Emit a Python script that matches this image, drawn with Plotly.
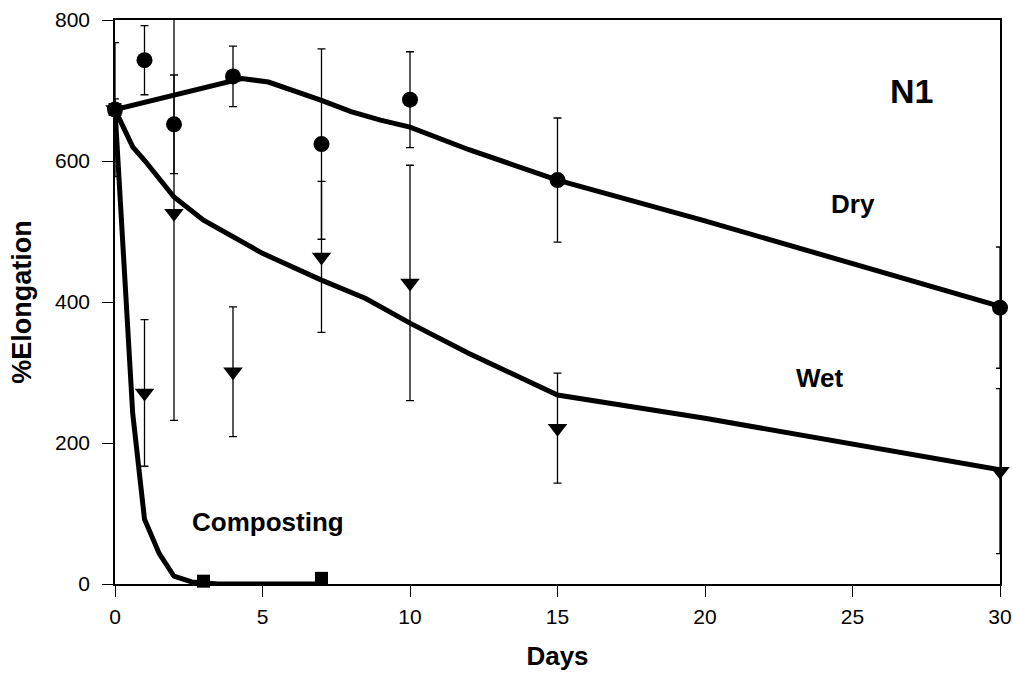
import plotly.graph_objects as go

# ---- data ----
days = [0, 1, 2, 4, 7, 10, 15, 30]

dry_y   = [673, 743, 652, 720, 624, 687, 573, 392]
dry_err = [95, 49, 70, 43, 135, 68, 88, 86]

wet_y   = [673, 271, 526, 301, 464, 427, 221, 160]
wet_err = [15, 104, 294, 92, 107, 167, 78, 117]

comp_days = [0, 3, 7]
comp_y    = [673, 4, 8]

# fitted curves
dry_fit_x = [0, 4.3, 5.2, 6, 7, 8, 9, 10, 12, 15, 20, 30]
dry_fit_y = [673, 717, 712, 701, 686, 670, 658, 648, 616, 573, 515, 394]

wet_fit_x = [0, 0.6, 1, 2, 3, 5, 7, 8.5, 10, 12, 15, 20, 30]
wet_fit_y = [673, 620, 601, 549, 516, 469, 431, 405, 370, 327, 268, 235, 162]

comp_fit_x = [0, 0.33, 0.5, 0.6, 1, 1.5, 2, 2.6, 3.5, 5, 7]
comp_fit_y = [673, 431, 320, 242, 92, 43, 11, 3, 0, 0, 0]

FONT = "Liberation Sans, Arial, Helvetica, sans-serif"
BLACK = "#000000"

fig = go.Figure()

# fitted lines
for fx, fy in [(dry_fit_x, dry_fit_y), (wet_fit_x, wet_fit_y), (comp_fit_x, comp_fit_y)]:
    fig.add_trace(go.Scatter(x=fx, y=fy, mode="lines",
                             line=dict(color=BLACK, width=5),
                             hoverinfo="skip", showlegend=False))

# error bars (clipped to plot area)
for yy, ee in [(dry_y, dry_err), (wet_y, wet_err)]:
    fig.add_trace(go.Scatter(x=days, y=yy, mode="markers",
                             marker=dict(size=1, color="rgba(0,0,0,0)"),
                             error_y=dict(type="data", array=ee, visible=True,
                                          color=BLACK, thickness=1.3, width=4),
                             cliponaxis=True, showlegend=False, hoverinfo="skip"))

# markers (not clipped)
fig.add_trace(go.Scatter(x=days, y=dry_y, mode="markers",
                         marker=dict(symbol="circle", size=16, color=BLACK),
                         cliponaxis=False, showlegend=False))
fig.add_trace(go.Scatter(x=days, y=wet_y, mode="markers",
                         marker=dict(symbol="triangle-down", size=17, color=BLACK),
                         cliponaxis=False, showlegend=False))
fig.add_trace(go.Scatter(x=comp_days, y=comp_y, mode="markers",
                         marker=dict(symbol="square", size=13, color=BLACK),
                         cliponaxis=False, showlegend=False))

ann_font = dict(family=FONT, size=26, color=BLACK)
fig.add_annotation(x=27.0, y=700, text="<b>N1</b>", showarrow=False,
                   font=dict(family=FONT, size=34, color=BLACK))
fig.add_annotation(x=25.0, y=539, text="<b>Dry</b>", showarrow=False, font=ann_font)
fig.add_annotation(x=23.9, y=292, text="<b>Wet</b>", showarrow=False, font=ann_font)
fig.add_annotation(x=5.2, y=88, text="<b>Composting</b>", showarrow=False, font=ann_font)

fig.update_layout(
    width=1013, height=687,
    margin=dict(l=115, r=13, t=20, b=103, autoexpand=False),
    paper_bgcolor="white", plot_bgcolor="white",
    font=dict(family=FONT, color=BLACK),
    showlegend=False,
)
fig.update_xaxes(
    range=[0, 30], tickvals=[0, 5, 10, 15, 20, 25, 30], automargin=False,
    showgrid=False, zeroline=False,
    showline=True, linecolor=BLACK, linewidth=1.5, mirror=True,
    ticks="outside", ticklen=11, tickwidth=1.3, tickcolor=BLACK,
    tickfont=dict(family=FONT, size=21, color=BLACK), ticklabelstandoff=2,
    title=dict(text="<b>Days</b>", font=dict(family=FONT, size=26, color=BLACK), standoff=20),
)
fig.update_yaxes(
    range=[0, 800], tickvals=[0, 200, 400, 600, 800], automargin=False,
    showgrid=False, zeroline=False,
    showline=True, linecolor=BLACK, linewidth=1.5, mirror=True,
    ticks="outside", ticklen=11, tickwidth=1.3, tickcolor=BLACK,
    tickfont=dict(family=FONT, size=21, color=BLACK), ticklabelstandoff=8,
    title=dict(text="<b>%Elongation</b>", font=dict(family=FONT, size=27, color=BLACK), standoff=16),
)

fig.write_html("out.html")
